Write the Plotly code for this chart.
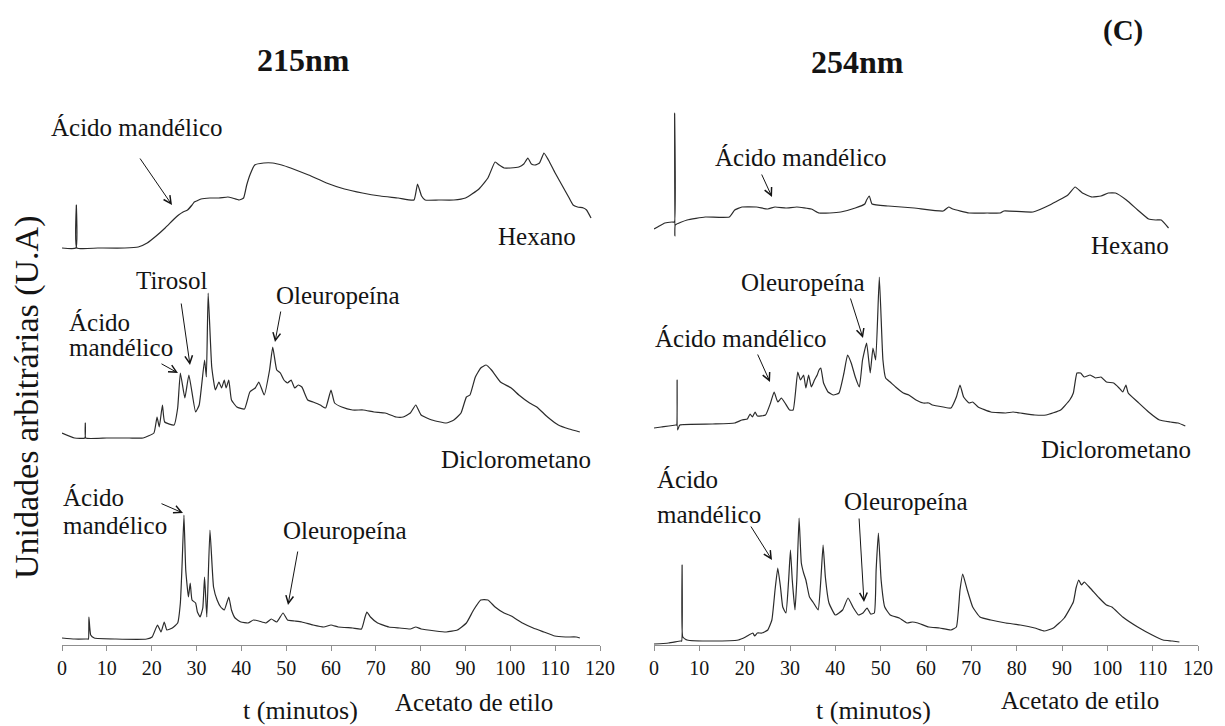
import plotly.graph_objects as go

# ---------------- chromatogram data (t in minutes, signal in arbitrary units) ----------------
# 215 nm
t_hex_215 = [0, 3.1, 3.2, 3.3, 8, 14, 17, 19, 21, 23, 25, 26, 27, 28, 29, 29.5, 30, 31, 33, 35,
             37, 38, 39.5, 40.5, 41.2, 42, 43, 45, 47, 49, 51, 55, 59, 63, 67, 71, 75, 78.5, 79.3, 80.2,
             81, 84, 87.4, 90, 93, 95, 96.6, 97.5, 98.6, 100, 101.9, 103, 103.9, 104.7, 105.5, 106.5,
             107.5, 108.5, 110, 111.5, 113, 114, 115, 116.3, 117, 118]
s_hex_215 = [0, 0, 43, 0, 0, 0, 1, 5, 12, 20, 29, 33, 36, 38, 43, 46, 47, 49, 50, 50,
             51, 50, 48, 50, 63, 74, 83, 85, 85, 83, 80, 73, 65, 59, 55, 52, 50, 48, 64, 52,
             48, 48, 48, 50, 59, 70, 86, 83, 80, 80, 81, 84, 90, 84, 83, 85,
             95, 88, 75, 63, 51, 43, 41, 40, 38, 30]

t_dcm_215 = [0, 2.8, 5.1, 5.2, 5.3, 10, 15, 18.1, 20.5, 21.2, 21.7, 22.4, 22.9, 25, 25.8, 26.4, 27.4,
             28.3, 29.8, 30.6, 31.8, 32.2, 32.6, 33.4, 34.2, 35, 35.6, 36.2, 36.6, 37.2, 37.8, 39, 40.7,
             41.9, 43.1, 43.9, 45.1, 46.3, 47, 47.9, 48.7, 49.5, 50.3, 51.1, 51.9, 52.7, 53.5, 54.8, 56,
             57.6, 58.8, 60, 60.8, 62.4, 64.8, 67.2, 69.6, 72.1, 74.5, 76.1, 77.7, 78.9, 80.1, 82.5, 85.7,
             87.4, 89, 90.2, 91, 92.2, 93.4, 94.6, 95.8, 97.8, 100.2, 101.9, 104.3, 105.9, 108.3, 110.7,
             113.1, 115.5]
s_dcm_215 = [5, 0, 0, 15, 0, 0, 0, 0, 5, 21, 11, 33, 16, 13, 30, 65, 40,
             63, 26, 33, 78, 61, 145, 71, 48, 56, 50, 58, 50, 58, 38, 31, 29,
             46, 50, 56, 43, 68, 91, 68, 65, 58, 55, 58, 50, 53, 51, 38, 36,
             33, 30, 48, 35, 31, 28, 28, 26, 25, 21, 21, 25, 33, 23, 18, 15,
             18, 25, 41, 43, 61, 70, 73, 68, 56, 50, 43, 35, 31, 21, 13,
             9, 6]

t_ace_215 = [0, 2.8, 5.6, 5.9, 6.0, 6.4, 7.2, 12, 18.9, 20.1, 21.3, 22.1, 22.8, 23.4, 24.6, 25.8, 26.4,
             26.8, 27.2, 27.6, 28.2, 28.6, 29, 29.8, 30.2, 30.8, 31.4, 31.8, 32.3, 33, 33.8, 34.6, 35.4,
             36.2, 37.2, 37.8, 38.6, 39.9, 41.5, 42.7, 43.9, 45.5, 46.7, 47.9, 49.3, 50.3, 51.9, 53.5, 56,
             58.4, 60, 61.6, 64.8, 66.8, 67.6, 68, 68.8, 70.4, 72.9, 75.3, 77.7, 78.9, 80.1, 83.3, 85.7,
             88.2, 90.2, 91.8, 93.4, 95, 96.6, 98.6, 100.2, 102.7, 105.1, 107.5, 109.9, 112.3, 114.7, 115.5]
s_ace_215 = [1, 0, 0, 0, 22, 4, 1, 0, 0, 2, 14, 7, 17, 9, 11, 16, 36,
             76, 124, 69, 42, 56, 39, 36, 27, 22, 31, 62, 22, 109, 52, 39, 32,
             29, 42, 29, 21, 17, 16, 19, 18, 16, 20, 17, 26, 19, 18, 17, 14,
             12, 14, 12, 11, 10, 22, 27, 22, 16, 12, 11, 10, 12, 10, 8, 7,
             9, 16, 29, 39, 39, 32, 26, 23, 16, 11, 7, 3, 2, 2, 1]

# 254 nm
t_hex_254 = [0, 0.8, 2.4, 4.0, 4.5, 4.55, 4.6, 4.7, 7.3, 11.3, 16.6, 17.8, 19.4, 22.6, 25.1, 26.7, 29.1,
             31.5, 34.7, 36.4, 38.8, 41.2, 44.4, 46.5, 46.9, 47.5, 48.1, 51.7, 57.4, 63.8, 65, 65.9, 69.5,
             73.5, 76.4, 77.2, 83.6, 87.3, 91.3, 92.9, 94.5, 96.6, 98.6, 100.2, 101.8, 104.2, 106.7, 109.1,
             110.7, 111.9, 113.5]
s_hex_254 = [6, 8, 12, 13, 13, 122, -1, 10, 15, 18, 18, 25, 28, 28, 26, 28, 27,
             28, 26, 22, 22, 23, 27, 31, 35, 39, 31, 29, 27, 24, 28, 26, 22,
             22, 22, 24, 23, 30, 40, 48, 42, 38, 39, 42, 42, 35, 25, 16,
             15, 15, 7]

t_dcm_254 = [0, 1.6, 4.8, 5.0, 5.1, 5.2, 5.7, 12.9, 17.8, 19.4, 20.6, 21.2, 21.7, 22.3, 22.8, 24.6, 25.7,
             26.5, 27.3, 28.1, 28.9, 29.9, 30.7, 31.7, 32.3, 33, 33.5, 34.1, 34.7, 35.4, 36, 36.4, 36.8,
             37.4, 38.4, 39.6, 40.8, 41.9, 42.7, 43.5, 44.4, 45.3, 46, 46.9, 47.7, 48.3, 48.9, 49.7, 50.5,
             51.1, 52.1, 53.3, 55, 56.2, 57.8, 59.4, 60.6, 61.4, 63.8, 65.5, 66.7, 67.5, 68.3, 69.5, 70.3,
             71.5, 74.3, 77.6, 79.2, 80.8, 84, 86.5, 89.7, 91.7, 92.5, 93.3, 94.1, 94.9, 96.2, 97.4, 98.6,
             99.8, 101.4, 102.6, 103.4, 104.1, 104.6, 106.7, 109.1, 111.5, 113.9, 115.6, 117.2]
s_dcm_254 = [2, 3, 5, 5, 50, 0, 5, 6, 7, 10, 11, 16, 13, 18, 14, 15, 27,
             38, 28, 32, 27, 20, 20, 58, 50, 55, 42, 55, 43, 50, 55, 60, 62,
             47, 38, 35, 37, 57, 75, 67, 53, 43, 70, 87, 57, 82, 70, 153, 70,
             52, 48, 43, 37, 35, 30, 27, 27, 25, 23, 22, 33, 45, 33, 27, 28,
             23, 18, 17, 18, 17, 15, 15, 20, 30, 37, 57, 57, 53, 55, 52, 53,
             48, 47, 42, 38, 45, 37, 28, 18, 10, 8, 7, 4]

t_ace_254 = [0, 3.2, 5.8, 6.1, 6.2, 6.35, 7.3, 12.9, 18.6, 20.2, 21.8, 22.2, 22.8, 23.8, 25.1, 26, 26.7,
             27.3, 27.9, 28.4, 29.1, 29.7, 30.1, 30.5, 31.1, 31.5, 32, 32.5, 33, 33.5, 34.3, 35.2, 36.2,
             36.8, 37.3, 37.8, 38.6, 40, 41.6, 42.8, 44, 45.1, 46.1, 47, 47.8, 48.6, 49, 49.5, 50.1,
             50.9, 52.1, 54.1, 55.8, 57, 58.2, 60.6, 63, 65.5, 66.7, 67.5, 68.1, 69.1, 70.3, 71.9, 74.3,
             77.6, 80.8, 84, 86.1, 88.1, 90.5, 92.5, 93.1, 93.7, 94.3, 94.9, 96.2, 98.2, 99.8, 101,
             103.4, 106.7, 109.9, 112.3, 114.3, 115.9]
s_ace_254 = [-3, -2, 0, 0, 76, 4, 1, 0, 1, 4, 8, 5, 8, 8, 11, 21, 51,
             73, 54, 34, 28, 61, 91, 61, 31, 61, 123, 78, 68, 61, 44, 38, 31,
             61, 96, 64, 38, 26, 31, 43, 33, 26, 28, 33, 27, 28, 71, 108, 61,
             34, 26, 23, 18, 19, 18, 14, 13, 11, 14, 51, 67, 51, 34, 24, 21,
             18, 16, 13, 10, 13, 23, 39, 53, 61, 56, 59, 53, 43, 36, 34,
             24, 14, 6, 1, 0, -1]

# vertical stacking of each extract's trace (signal units)
offsets_215 = {"Hexano": 397, "Diclorometano": 207, "Acetato de etilo": 6}
offsets_254 = {"Hexano": 410, "Diclorometano": 215, "Acetato de etilo": 4}

x_ticks = list(range(0, 121, 10))

# ---------------- geometry ----------------
FIG_W, FIG_H = 1225, 726
M_L, M_R, M_T, M_B = 62, 27, 60, 81
PLOT_W = FIG_W - M_L - M_R
PLOT_H = FIG_H - M_T - M_B
LEFT_END = 538      # px width of the 215 nm panel
RIGHT_START = 592   # px offset of the 254 nm panel

def xp(px):
    return (px - M_L) / PLOT_W

def yp(py):
    return (FIG_H - M_B - py) / PLOT_H

SERIF = "Liberation Serif, Times New Roman, serif"
INK = "#141414"
TRACE = "#2b2b2b"

fig = go.Figure()

panels = [
    ("x", "y", offsets_215, [(t_hex_215, s_hex_215, "Hexano"),
                              (t_dcm_215, s_dcm_215, "Diclorometano"),
                              (t_ace_215, s_ace_215, "Acetato de etilo")]),
    ("x2", "y2", offsets_254, [(t_hex_254, s_hex_254, "Hexano"),
                                (t_dcm_254, s_dcm_254, "Diclorometano"),
                                (t_ace_254, s_ace_254, "Acetato de etilo")]),
]
for xa, ya, offs, series in panels:
    for t, s, name in series:
        fig.add_trace(go.Scatter(
            x=t, y=[v + offs[name] for v in s], mode="lines", name=name,
            line=dict(color=TRACE, width=1.2, shape="spline", smoothing=0.4),
            xaxis=xa, yaxis=ya, showlegend=False, hoverinfo="skip"))

axis_common = dict(range=[0, 120], tickvals=x_ticks, ticks="outside", ticklen=5, tickwidth=1,
                   tickcolor="#8f8f8f", showline=True, linecolor="#8f8f8f", linewidth=1,
                   showgrid=False, zeroline=False,
                   tickfont=dict(family=SERIF, size=20, color=INK))
yaxis_common = dict(range=[0, PLOT_H], visible=False, fixedrange=True)

fig.update_layout(
    width=FIG_W, height=FIG_H,
    margin=dict(l=M_L, r=M_R, t=M_T, b=M_B),
    paper_bgcolor="white", plot_bgcolor="white",
    xaxis=dict(domain=[0, LEFT_END / PLOT_W], anchor="y", **axis_common),
    xaxis2=dict(domain=[RIGHT_START / PLOT_W, 1], anchor="y2", **axis_common),
    yaxis=dict(anchor="x", **yaxis_common),
    yaxis2=dict(anchor="x2", **yaxis_common),
)

annotations = []

def label(text, px, py, size=25, bold=False, anchor="center", angle=0):
    annotations.append(dict(
        text=f"<b>{text}</b>" if bold else text, x=xp(px), y=yp(py), xref="paper", yref="paper",
        xanchor=anchor, yanchor="middle", showarrow=False, textangle=angle,
        font=dict(family=SERIF, size=size, color=INK)))

def arrow(tail, head):
    annotations.append(dict(
        text="", x=xp(head[0]), y=yp(head[1]), xref="paper", yref="paper",
        ax=tail[0] - head[0], ay=tail[1] - head[1], showarrow=True,
        arrowhead=5, arrowsize=1.5, arrowwidth=1, arrowcolor=INK, standoff=0))

# titles
label("215nm", 303, 60, size=32, bold=True)
label("254nm", 857, 62, size=32, bold=True)
label("(C)", 1123, 31, size=29, bold=True)
label("Unidades arbitrárias (U.A)", 27, 398, size=34, angle=-90)

# 215 nm panel
label("Ácido mandélico", 136, 127)
arrow((139, 157), (172, 205))
label("Hexano", 537, 236)
label("Tirosol", 171, 280)
arrow((181, 302), (190, 365))
label("Ácido", 67, 322, anchor="left")
label("mandélico", 67, 347, anchor="left")
arrow((160, 363), (178, 373))
label("Oleuropeína", 338, 295)
arrow((281, 310), (275, 342))
label("Diclorometano", 516, 459)
label("Ácido", 61, 497, anchor="left")
label("mandélico", 61, 525, anchor="left")
arrow((160, 503), (183, 513))
label("Oleuropeína", 345, 530)
arrow((298, 550), (288, 605))
label("Acetato de etilo", 474, 702)
label("t (minutos)", 300, 710, size=26)

# 254 nm panel
label("Ácido mandélico", 800, 157)
arrow((761, 173), (772, 197))
label("Hexano", 1130, 245)
label("Oleuropeína", 803, 282)
arrow((850, 297), (863, 338))
label("Ácido mandélico", 740, 338)
arrow((757, 353), (770, 382))
label("Diclorometano", 1116, 449)
label("Ácido", 655, 479, anchor="left")
label("mandélico", 655, 514, anchor="left")
arrow((750, 525), (772, 560))
label("Oleuropeína", 906, 501)
arrow((859, 517), (864, 602))
label("Acetato de etilo", 1080, 700)
label("t (minutos)", 873, 710, size=26)

fig.update_layout(annotations=annotations)
fig.write_html("out.html")
